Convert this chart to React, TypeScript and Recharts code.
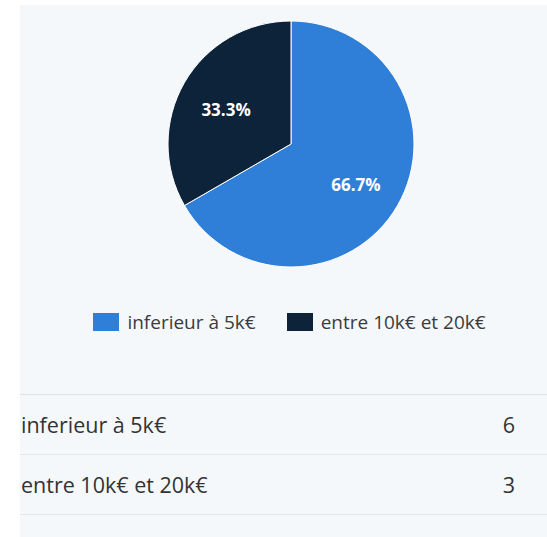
import { PieChart, Pie, Cell, Legend } from 'recharts'

const categories = ['inferieur à 5k€', 'entre 10k€ et 20k€']
const counts = [6, 3]
const colors = ['#2f7ed8', '#0d233a']

const data = categories.map((name, i) => ({ name, value: counts[i] }))
const RAD = Math.PI / 180
const FONT = '"Open Sans", "Noto Sans", sans-serif'

function renderLabel(props: any) {
  const { cx, cy, midAngle, percent } = props
  const r = 75
  const x = cx + r * Math.cos(-midAngle * RAD)
  const y = cy + r * Math.sin(-midAngle * RAD) + 3
  return (
    <text
      x={x}
      y={y}
      fill="#fff"
      textAnchor="middle"
      dominantBaseline="central"
      fontFamily={FONT}
      fontWeight={700}
      fontSize={17}
    >
      {(percent * 100).toFixed(1)}%
    </text>
  )
}

// legend drawn in category order (recharts would sort it otherwise)
function LegendContent() {
  return (
    <div style={{ display: 'flex', justifyContent: 'center', alignItems: 'center', gap: 31, paddingLeft: 12 }}>
      {categories.map((name, i) => (
        <div key={name} style={{ display: 'flex', alignItems: 'center' }}>
          <span style={{ display: 'inline-block', width: 26, height: 18, background: colors[i], marginRight: 8 }} />
          <span style={{ fontFamily: FONT, fontSize: 19, color: '#3b3b3b' }}>{name}</span>
        </div>
      ))}
    </div>
  )
}

export default function App() {
  return (
    <div style={{ position: 'absolute', left: 0, top: 0, width: 547, height: 537, background: '#fff', overflow: 'hidden' }}>
      <div style={{ position: 'absolute', left: 20, top: 5, width: 527, height: 532, background: '#f5f8fb' }}>
        <PieChart width={527} height={345} margin={{ top: 0, right: 0, bottom: 0, left: 0 }}>
          <Pie
            data={data}
            dataKey="value"
            nameKey="name"
            cx={271}
            cy={139}
            outerRadius={123}
            startAngle={90}
            endAngle={-270}
            stroke="#fff"
            strokeWidth={1}
            label={renderLabel}
            labelLine={false}
            isAnimationActive={false}
          >
            {data.map((d, i) => (
              <Cell key={d.name} fill={colors[i]} />
            ))}
          </Pie>
          <Legend
            content={<LegendContent />}
            wrapperStyle={{ top: 304, left: 0, width: 527, height: 30 }}
          />
        </PieChart>
        <div style={{ position: 'absolute', left: 0, top: 389, width: 527, borderTop: '1.5px solid #dfe3e7' }}>
          {data.map(d => (
            <div
              key={d.name}
              style={{
                display: 'flex',
                justifyContent: 'space-between',
                alignItems: 'center',
                height: 59,
                borderBottom: '1px solid #e4e7ea',
                fontFamily: FONT,
                fontSize: 21.5,
                color: '#333',
                paddingLeft: 1,
                paddingRight: 32,
              }}
            >
              <span>{d.name}</span>
              <span>{d.value}</span>
            </div>
          ))}
        </div>
      </div>
    </div>
  )
}
